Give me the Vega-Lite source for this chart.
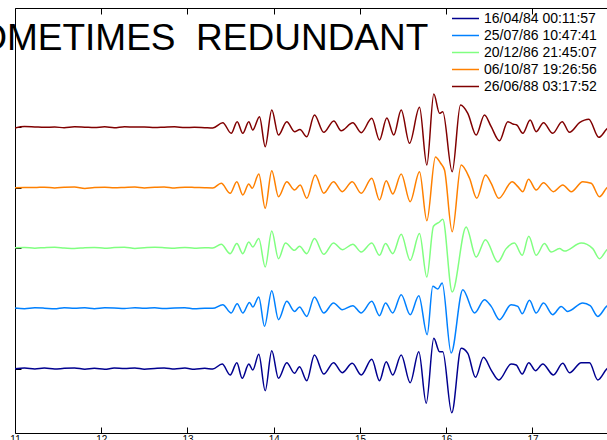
{
"$schema": "https://vega.github.io/schema/vega-lite/v6.json",
"width": 592, "height": 425,
"autosize": {"type": "none"},
"padding": {"left": 15, "top": 8, "right": 0, "bottom": 7},
"background": "white",
"config": {"view": {"stroke": null}, "font": "Liberation Sans"},
"datasets": {
"traces": [
{"s":"16/04/84 00:11:57","t":11.00,"v":1.000},{"s":"16/04/84 00:11:57","t":11.11,"v":1.012},{"s":"16/04/84 00:11:57","t":11.23,"v":0.996},{"s":"16/04/84 00:11:57","t":11.34,"v":1.010},{"s":"16/04/84 00:11:57","t":11.46,"v":0.994},{"s":"16/04/84 00:11:57","t":11.57,"v":1.008},{"s":"16/04/84 00:11:57","t":11.69,"v":1.014},{"s":"16/04/84 00:11:57","t":11.81,"v":0.992},{"s":"16/04/84 00:11:57","t":11.92,"v":1.006},{"s":"16/04/84 00:11:57","t":12.04,"v":0.990},{"s":"16/04/84 00:11:57","t":12.15,"v":1.012},{"s":"16/04/84 00:11:57","t":12.27,"v":1.002},{"s":"16/04/84 00:11:57","t":12.39,"v":1.014},{"s":"16/04/84 00:11:57","t":12.50,"v":0.992},{"s":"16/04/84 00:11:57","t":12.62,"v":1.004},{"s":"16/04/84 00:11:57","t":12.73,"v":1.012},{"s":"16/04/84 00:11:57","t":12.85,"v":0.994},{"s":"16/04/84 00:11:57","t":12.97,"v":1.010},{"s":"16/04/84 00:11:57","t":13.08,"v":0.992},{"s":"16/04/84 00:11:57","t":13.20,"v":1.006},
{"s":"16/04/84 00:11:57","t":13.293,"v":0.995},{"s":"16/04/84 00:11:57","t":13.402,"v":1.078},{"s":"16/04/84 00:11:57","t":13.495,"v":0.896},{"s":"16/04/84 00:11:57","t":13.572,"v":1.099},{"s":"16/04/84 00:11:57","t":13.634,"v":0.841},{"s":"16/04/84 00:11:57","t":13.711,"v":1.078},{"s":"16/04/84 00:11:57","t":13.757,"v":0.978},{"s":"16/04/84 00:11:57","t":13.827,"v":1.239},{"s":"16/04/84 00:11:57","t":13.901,"v":0.635},{"s":"16/04/84 00:11:57","t":13.977,"v":1.298},{"s":"16/04/84 00:11:57","t":14.055,"v":0.841},{"s":"16/04/84 00:11:57","t":14.151,"v":1.099},{"s":"16/04/84 00:11:57","t":14.241,"v":0.924},{"s":"16/04/84 00:11:57","t":14.299,"v":1.033},{"s":"16/04/84 00:11:57","t":14.383,"v":0.801},{"s":"16/04/84 00:11:57","t":14.472,"v":1.227},{"s":"16/04/84 00:11:57","t":14.580,"v":0.912},{"s":"16/04/84 00:11:57","t":14.693,"v":1.099},{"s":"16/04/84 00:11:57","t":14.794,"v":0.934},{"s":"16/04/84 00:11:57","t":14.910,"v":1.089},{"s":"16/04/84 00:11:57","t":15.014,"v":0.896},{"s":"16/04/84 00:11:57","t":15.137,"v":1.156},{"s":"16/04/84 00:11:57","t":15.226,"v":0.801},{"s":"16/04/84 00:11:57","t":15.304,"v":1.116},{"s":"16/04/84 00:11:57","t":15.380,"v":0.896},{"s":"16/04/84 00:11:57","t":15.478,"v":1.227},{"s":"16/04/84 00:11:57","t":15.582,"v":0.768},{"s":"16/04/84 00:11:57","t":15.682,"v":1.282},{"s":"16/04/84 00:11:57","t":15.768,"v":0.427},{"s":"16/04/84 00:11:57","t":15.856,"v":1.504},{"s":"16/04/84 00:11:57","t":15.922,"v":1.282},{"s":"16/04/84 00:11:57","t":15.960,"v":1.282},{"s":"16/04/84 00:11:57","t":16.064,"v":0.271},{"s":"16/04/84 00:11:57","t":16.173,"v":1.338},{"s":"16/04/84 00:11:57","t":16.250,"v":1.255},{"s":"16/04/84 00:11:57","t":16.339,"v":0.857},{"s":"16/04/84 00:11:57","t":16.432,"v":1.189},{"s":"16/04/84 00:11:57","t":16.521,"v":0.978},{"s":"16/04/84 00:11:57","t":16.609,"v":0.813},{"s":"16/04/84 00:11:57","t":16.753,"v":1.078},{"s":"16/04/84 00:11:57","t":16.811,"v":1.061},{"s":"16/04/84 00:11:57","t":16.881,"v":0.912},{"s":"16/04/84 00:11:57","t":16.957,"v":1.099},{"s":"16/04/84 00:11:57","t":17.035,"v":0.967},{"s":"16/04/84 00:11:57","t":17.119,"v":1.078},{"s":"16/04/84 00:11:57","t":17.243,"v":0.896},{"s":"16/04/84 00:11:57","t":17.351,"v":1.089},{"s":"16/04/84 00:11:57","t":17.429,"v":0.934},{"s":"16/04/84 00:11:57","t":17.565,"v":1.099},{"s":"16/04/84 00:11:57","t":17.661,"v":1.099},{"s":"16/04/84 00:11:57","t":17.757,"v":0.813},{"s":"16/04/84 00:11:57","t":17.858,"v":0.990},{"s":"16/04/84 00:11:57","t":17.95,"v":1.090},
{"s":"25/07/86 10:47:41","t":11.00,"v":2.005},{"s":"25/07/86 10:47:41","t":11.11,"v":1.994},{"s":"25/07/86 10:47:41","t":11.23,"v":2.010},{"s":"25/07/86 10:47:41","t":11.34,"v":2.004},{"s":"25/07/86 10:47:41","t":11.46,"v":1.992},{"s":"25/07/86 10:47:41","t":11.57,"v":2.012},{"s":"25/07/86 10:47:41","t":11.69,"v":2.002},{"s":"25/07/86 10:47:41","t":11.81,"v":2.010},{"s":"25/07/86 10:47:41","t":11.92,"v":1.994},{"s":"25/07/86 10:47:41","t":12.04,"v":2.010},{"s":"25/07/86 10:47:41","t":12.15,"v":2.006},{"s":"25/07/86 10:47:41","t":12.27,"v":1.996},{"s":"25/07/86 10:47:41","t":12.39,"v":2.012},{"s":"25/07/86 10:47:41","t":12.50,"v":2.002},{"s":"25/07/86 10:47:41","t":12.62,"v":2.010},{"s":"25/07/86 10:47:41","t":12.73,"v":1.996},{"s":"25/07/86 10:47:41","t":12.85,"v":2.008},{"s":"25/07/86 10:47:41","t":12.97,"v":2.012},{"s":"25/07/86 10:47:41","t":13.08,"v":1.994},{"s":"25/07/86 10:47:41","t":13.20,"v":2.004},
{"s":"25/07/86 10:47:41","t":13.293,"v":2.000},{"s":"25/07/86 10:47:41","t":13.409,"v":2.061},{"s":"25/07/86 10:47:41","t":13.507,"v":1.924},{"s":"25/07/86 10:47:41","t":13.576,"v":2.078},{"s":"25/07/86 10:47:41","t":13.641,"v":1.924},{"s":"25/07/86 10:47:41","t":13.719,"v":2.099},{"s":"25/07/86 10:47:41","t":13.757,"v":2.023},{"s":"25/07/86 10:47:41","t":13.827,"v":2.189},{"s":"25/07/86 10:47:41","t":13.893,"v":1.702},{"s":"25/07/86 10:47:41","t":13.977,"v":2.293},{"s":"25/07/86 10:47:41","t":14.055,"v":1.813},{"s":"25/07/86 10:47:41","t":14.151,"v":2.116},{"s":"25/07/86 10:47:41","t":14.241,"v":1.950},{"s":"25/07/86 10:47:41","t":14.299,"v":2.023},{"s":"25/07/86 10:47:41","t":14.383,"v":1.867},{"s":"25/07/86 10:47:41","t":14.472,"v":2.189},{"s":"25/07/86 10:47:41","t":14.580,"v":1.924},{"s":"25/07/86 10:47:41","t":14.693,"v":2.089},{"s":"25/07/86 10:47:41","t":14.794,"v":1.978},{"s":"25/07/86 10:47:41","t":14.917,"v":2.045},{"s":"25/07/86 10:47:41","t":15.014,"v":1.924},{"s":"25/07/86 10:47:41","t":15.137,"v":2.116},{"s":"25/07/86 10:47:41","t":15.226,"v":1.879},{"s":"25/07/86 10:47:41","t":15.296,"v":2.089},{"s":"25/07/86 10:47:41","t":15.380,"v":1.924},{"s":"25/07/86 10:47:41","t":15.478,"v":2.227},{"s":"25/07/86 10:47:41","t":15.582,"v":1.896},{"s":"25/07/86 10:47:41","t":15.682,"v":2.210},{"s":"25/07/86 10:47:41","t":15.779,"v":1.564},{"s":"25/07/86 10:47:41","t":15.844,"v":2.365},{"s":"25/07/86 10:47:41","t":15.902,"v":2.321},{"s":"25/07/86 10:47:41","t":15.953,"v":2.421},{"s":"25/07/86 10:47:41","t":16.057,"v":1.261},{"s":"25/07/86 10:47:41","t":16.192,"v":2.310},{"s":"25/07/86 10:47:41","t":16.328,"v":1.924},{"s":"25/07/86 10:47:41","t":16.443,"v":2.144},{"s":"25/07/86 10:47:41","t":16.521,"v":2.033},{"s":"25/07/86 10:47:41","t":16.617,"v":1.813},{"s":"25/07/86 10:47:41","t":16.753,"v":2.061},{"s":"25/07/86 10:47:41","t":16.830,"v":2.033},{"s":"25/07/86 10:47:41","t":16.881,"v":1.912},{"s":"25/07/86 10:47:41","t":16.965,"v":2.133},{"s":"25/07/86 10:47:41","t":17.043,"v":1.924},{"s":"25/07/86 10:47:41","t":17.128,"v":2.089},{"s":"25/07/86 10:47:41","t":17.235,"v":1.896},{"s":"25/07/86 10:47:41","t":17.333,"v":2.033},{"s":"25/07/86 10:47:41","t":17.409,"v":1.950},{"s":"25/07/86 10:47:41","t":17.583,"v":2.089},{"s":"25/07/86 10:47:41","t":17.669,"v":2.045},{"s":"25/07/86 10:47:41","t":17.757,"v":1.867},{"s":"25/07/86 10:47:41","t":17.858,"v":2.033},{"s":"25/07/86 10:47:41","t":17.95,"v":2.111},
{"s":"20/12/86 21:45:07","t":11.00,"v":3.004},{"s":"20/12/86 21:45:07","t":11.11,"v":3.010},{"s":"20/12/86 21:45:07","t":11.23,"v":2.998},{"s":"20/12/86 21:45:07","t":11.34,"v":3.006},{"s":"20/12/86 21:45:07","t":11.46,"v":3.012},{"s":"20/12/86 21:45:07","t":11.57,"v":3.002},{"s":"20/12/86 21:45:07","t":11.69,"v":2.992},{"s":"20/12/86 21:45:07","t":11.81,"v":3.006},{"s":"20/12/86 21:45:07","t":11.92,"v":3.010},{"s":"20/12/86 21:45:07","t":12.04,"v":2.996},{"s":"20/12/86 21:45:07","t":12.15,"v":3.008},{"s":"20/12/86 21:45:07","t":12.27,"v":3.012},{"s":"20/12/86 21:45:07","t":12.39,"v":2.994},{"s":"20/12/86 21:45:07","t":12.50,"v":3.004},{"s":"20/12/86 21:45:07","t":12.62,"v":3.012},{"s":"20/12/86 21:45:07","t":12.73,"v":3.006},{"s":"20/12/86 21:45:07","t":12.85,"v":2.996},{"s":"20/12/86 21:45:07","t":12.97,"v":3.010},{"s":"20/12/86 21:45:07","t":13.08,"v":2.998},{"s":"20/12/86 21:45:07","t":13.20,"v":3.006},
{"s":"20/12/86 21:45:07","t":13.293,"v":3.000},{"s":"20/12/86 21:45:07","t":13.391,"v":3.061},{"s":"20/12/86 21:45:07","t":13.495,"v":2.907},{"s":"20/12/86 21:45:07","t":13.572,"v":3.073},{"s":"20/12/86 21:45:07","t":13.641,"v":2.907},{"s":"20/12/86 21:45:07","t":13.711,"v":3.099},{"s":"20/12/86 21:45:07","t":13.757,"v":3.017},{"s":"20/12/86 21:45:07","t":13.827,"v":3.156},{"s":"20/12/86 21:45:07","t":13.901,"v":2.685},{"s":"20/12/86 21:45:07","t":13.977,"v":3.282},{"s":"20/12/86 21:45:07","t":14.055,"v":2.824},{"s":"20/12/86 21:45:07","t":14.136,"v":3.083},{"s":"20/12/86 21:45:07","t":14.241,"v":2.962},{"s":"20/12/86 21:45:07","t":14.299,"v":3.028},{"s":"20/12/86 21:45:07","t":14.383,"v":2.907},{"s":"20/12/86 21:45:07","t":14.472,"v":3.156},{"s":"20/12/86 21:45:07","t":14.580,"v":2.896},{"s":"20/12/86 21:45:07","t":14.693,"v":3.083},{"s":"20/12/86 21:45:07","t":14.794,"v":2.973},{"s":"20/12/86 21:45:07","t":14.917,"v":3.061},{"s":"20/12/86 21:45:07","t":15.014,"v":2.934},{"s":"20/12/86 21:45:07","t":15.137,"v":3.083},{"s":"20/12/86 21:45:07","t":15.226,"v":2.879},{"s":"20/12/86 21:45:07","t":15.296,"v":3.073},{"s":"20/12/86 21:45:07","t":15.380,"v":2.907},{"s":"20/12/86 21:45:07","t":15.478,"v":3.227},{"s":"20/12/86 21:45:07","t":15.582,"v":2.796},{"s":"20/12/86 21:45:07","t":15.690,"v":3.239},{"s":"20/12/86 21:45:07","t":15.775,"v":2.519},{"s":"20/12/86 21:45:07","t":15.852,"v":3.360},{"s":"20/12/86 21:45:07","t":15.922,"v":3.431},{"s":"20/12/86 21:45:07","t":15.960,"v":3.476},{"s":"20/12/86 21:45:07","t":16.069,"v":2.271},{"s":"20/12/86 21:45:07","t":16.231,"v":3.348},{"s":"20/12/86 21:45:07","t":16.347,"v":2.851},{"s":"20/12/86 21:45:07","t":16.455,"v":3.139},{"s":"20/12/86 21:45:07","t":16.598,"v":2.768},{"s":"20/12/86 21:45:07","t":16.695,"v":2.990},{"s":"20/12/86 21:45:07","t":16.791,"v":3.083},{"s":"20/12/86 21:45:07","t":16.881,"v":2.879},{"s":"20/12/86 21:45:07","t":16.957,"v":3.194},{"s":"20/12/86 21:45:07","t":17.043,"v":2.879},{"s":"20/12/86 21:45:07","t":17.139,"v":3.073},{"s":"20/12/86 21:45:07","t":17.217,"v":2.934},{"s":"20/12/86 21:45:07","t":17.313,"v":2.990},{"s":"20/12/86 21:45:07","t":17.371,"v":2.950},{"s":"20/12/86 21:45:07","t":17.565,"v":3.083},{"s":"20/12/86 21:45:07","t":17.699,"v":2.990},{"s":"20/12/86 21:45:07","t":17.777,"v":2.824},{"s":"20/12/86 21:45:07","t":17.858,"v":2.962},{"s":"20/12/86 21:45:07","t":17.95,"v":3.078},
{"s":"06/10/87 19:26:56","t":11.00,"v":4.000},{"s":"06/10/87 19:26:56","t":11.11,"v":4.004},{"s":"06/10/87 19:26:56","t":11.23,"v":4.002},{"s":"06/10/87 19:26:56","t":11.34,"v":4.008},{"s":"06/10/87 19:26:56","t":11.46,"v":3.996},{"s":"06/10/87 19:26:56","t":11.57,"v":4.006},{"s":"06/10/87 19:26:56","t":11.69,"v":4.012},{"s":"06/10/87 19:26:56","t":11.81,"v":3.988},{"s":"06/10/87 19:26:56","t":11.92,"v":4.004},{"s":"06/10/87 19:26:56","t":12.04,"v":4.006},{"s":"06/10/87 19:26:56","t":12.15,"v":3.998},{"s":"06/10/87 19:26:56","t":12.27,"v":4.004},{"s":"06/10/87 19:26:56","t":12.39,"v":4.010},{"s":"06/10/87 19:26:56","t":12.50,"v":3.996},{"s":"06/10/87 19:26:56","t":12.62,"v":4.006},{"s":"06/10/87 19:26:56","t":12.73,"v":4.012},{"s":"06/10/87 19:26:56","t":12.85,"v":3.994},{"s":"06/10/87 19:26:56","t":12.97,"v":4.008},{"s":"06/10/87 19:26:56","t":13.08,"v":4.004},{"s":"06/10/87 19:26:56","t":13.20,"v":3.998},
{"s":"06/10/87 19:26:56","t":13.293,"v":3.995},{"s":"06/10/87 19:26:56","t":13.391,"v":4.073},{"s":"06/10/87 19:26:56","t":13.495,"v":3.907},{"s":"06/10/87 19:26:56","t":13.572,"v":4.099},{"s":"06/10/87 19:26:56","t":13.641,"v":3.879},{"s":"06/10/87 19:26:56","t":13.711,"v":4.061},{"s":"06/10/87 19:26:56","t":13.750,"v":3.990},{"s":"06/10/87 19:26:56","t":13.827,"v":4.227},{"s":"06/10/87 19:26:56","t":13.901,"v":3.659},{"s":"06/10/87 19:26:56","t":13.977,"v":4.282},{"s":"06/10/87 19:26:56","t":14.055,"v":3.851},{"s":"06/10/87 19:26:56","t":14.151,"v":4.099},{"s":"06/10/87 19:26:56","t":14.241,"v":3.962},{"s":"06/10/87 19:26:56","t":14.307,"v":4.045},{"s":"06/10/87 19:26:56","t":14.383,"v":3.824},{"s":"06/10/87 19:26:56","t":14.481,"v":4.210},{"s":"06/10/87 19:26:56","t":14.580,"v":3.907},{"s":"06/10/87 19:26:56","t":14.693,"v":4.099},{"s":"06/10/87 19:26:56","t":14.794,"v":3.934},{"s":"06/10/87 19:26:56","t":14.910,"v":4.099},{"s":"06/10/87 19:26:56","t":15.014,"v":3.907},{"s":"06/10/87 19:26:56","t":15.137,"v":4.156},{"s":"06/10/87 19:26:56","t":15.226,"v":3.796},{"s":"06/10/87 19:26:56","t":15.304,"v":4.116},{"s":"06/10/87 19:26:56","t":15.380,"v":3.896},{"s":"06/10/87 19:26:56","t":15.478,"v":4.227},{"s":"06/10/87 19:26:56","t":15.582,"v":3.768},{"s":"06/10/87 19:26:56","t":15.690,"v":4.265},{"s":"06/10/87 19:26:56","t":15.775,"v":3.453},{"s":"06/10/87 19:26:56","t":15.875,"v":4.509},{"s":"06/10/87 19:26:56","t":15.933,"v":4.409},{"s":"06/10/87 19:26:56","t":15.980,"v":4.293},{"s":"06/10/87 19:26:56","t":16.069,"v":3.271},{"s":"06/10/87 19:26:56","t":16.173,"v":4.376},{"s":"06/10/87 19:26:56","t":16.270,"v":4.156},{"s":"06/10/87 19:26:56","t":16.354,"v":3.824},{"s":"06/10/87 19:26:56","t":16.455,"v":4.210},{"s":"06/10/87 19:26:56","t":16.521,"v":4.073},{"s":"06/10/87 19:26:56","t":16.609,"v":3.824},{"s":"06/10/87 19:26:56","t":16.765,"v":4.099},{"s":"06/10/87 19:26:56","t":16.830,"v":4.017},{"s":"06/10/87 19:26:56","t":16.888,"v":3.934},{"s":"06/10/87 19:26:56","t":16.954,"v":4.139},{"s":"06/10/87 19:26:56","t":17.043,"v":3.962},{"s":"06/10/87 19:26:56","t":17.128,"v":4.083},{"s":"06/10/87 19:26:56","t":17.243,"v":3.934},{"s":"06/10/87 19:26:56","t":17.351,"v":4.045},{"s":"06/10/87 19:26:56","t":17.449,"v":3.934},{"s":"06/10/87 19:26:56","t":17.583,"v":4.099},{"s":"06/10/87 19:26:56","t":17.681,"v":4.073},{"s":"06/10/87 19:26:56","t":17.777,"v":3.851},{"s":"06/10/87 19:26:56","t":17.858,"v":3.990},{"s":"06/10/87 19:26:56","t":17.95,"v":4.094},
{"s":"26/06/88 03:17:52","t":11.00,"v":4.990},{"s":"26/06/88 03:17:52","t":11.11,"v":5.012},{"s":"26/06/88 03:17:52","t":11.23,"v":5.006},{"s":"26/06/88 03:17:52","t":11.34,"v":5.000},{"s":"26/06/88 03:17:52","t":11.46,"v":5.004},{"s":"26/06/88 03:17:52","t":11.57,"v":4.994},{"s":"26/06/88 03:17:52","t":11.69,"v":5.008},{"s":"26/06/88 03:17:52","t":11.81,"v":5.002},{"s":"26/06/88 03:17:52","t":11.92,"v":4.996},{"s":"26/06/88 03:17:52","t":12.04,"v":5.008},{"s":"26/06/88 03:17:52","t":12.15,"v":4.992},{"s":"26/06/88 03:17:52","t":12.27,"v":5.010},{"s":"26/06/88 03:17:52","t":12.39,"v":5.004},{"s":"26/06/88 03:17:52","t":12.50,"v":5.006},{"s":"26/06/88 03:17:52","t":12.62,"v":4.996},{"s":"26/06/88 03:17:52","t":12.73,"v":5.002},{"s":"26/06/88 03:17:52","t":12.85,"v":5.008},{"s":"26/06/88 03:17:52","t":12.97,"v":4.996},{"s":"26/06/88 03:17:52","t":13.08,"v":5.002},{"s":"26/06/88 03:17:52","t":13.20,"v":4.994},
{"s":"26/06/88 03:17:52","t":13.293,"v":4.988},{"s":"26/06/88 03:17:52","t":13.409,"v":5.076},{"s":"26/06/88 03:17:52","t":13.507,"v":4.901},{"s":"26/06/88 03:17:52","t":13.576,"v":5.093},{"s":"26/06/88 03:17:52","t":13.641,"v":4.901},{"s":"26/06/88 03:17:52","t":13.711,"v":5.093},{"s":"26/06/88 03:17:52","t":13.757,"v":4.955},{"s":"26/06/88 03:17:52","t":13.835,"v":5.176},{"s":"26/06/88 03:17:52","t":13.901,"v":4.679},{"s":"26/06/88 03:17:52","t":13.977,"v":5.287},{"s":"26/06/88 03:17:52","t":14.055,"v":4.872},{"s":"26/06/88 03:17:52","t":14.151,"v":5.093},{"s":"26/06/88 03:17:52","t":14.241,"v":4.927},{"s":"26/06/88 03:17:52","t":14.304,"v":4.964},{"s":"26/06/88 03:17:52","t":14.383,"v":4.844},{"s":"26/06/88 03:17:52","t":14.472,"v":5.204},{"s":"26/06/88 03:17:52","t":14.580,"v":4.917},{"s":"26/06/88 03:17:52","t":14.696,"v":5.104},{"s":"26/06/88 03:17:52","t":14.782,"v":4.944},{"s":"26/06/88 03:17:52","t":14.917,"v":5.076},{"s":"26/06/88 03:17:52","t":15.014,"v":4.911},{"s":"26/06/88 03:17:52","t":15.137,"v":5.149},{"s":"26/06/88 03:17:52","t":15.226,"v":4.790},{"s":"26/06/88 03:17:52","t":15.311,"v":5.154},{"s":"26/06/88 03:17:52","t":15.392,"v":4.872},{"s":"26/06/88 03:17:52","t":15.478,"v":5.287},{"s":"26/06/88 03:17:52","t":15.574,"v":4.735},{"s":"26/06/88 03:17:52","t":15.690,"v":5.331},{"s":"26/06/88 03:17:52","t":15.775,"v":4.375},{"s":"26/06/88 03:17:52","t":15.856,"v":5.552},{"s":"26/06/88 03:17:52","t":15.922,"v":5.232},{"s":"26/06/88 03:17:52","t":15.960,"v":5.258},{"s":"26/06/88 03:17:52","t":16.069,"v":4.264},{"s":"26/06/88 03:17:52","t":16.165,"v":5.370},{"s":"26/06/88 03:17:52","t":16.250,"v":5.232},{"s":"26/06/88 03:17:52","t":16.347,"v":4.872},{"s":"26/06/88 03:17:52","t":16.443,"v":5.204},{"s":"26/06/88 03:17:52","t":16.521,"v":5.010},{"s":"26/06/88 03:17:52","t":16.617,"v":4.778},{"s":"26/06/88 03:17:52","t":16.714,"v":5.093},{"s":"26/06/88 03:17:52","t":16.772,"v":5.055},{"s":"26/06/88 03:17:52","t":16.818,"v":5.038},{"s":"26/06/88 03:17:52","t":16.888,"v":4.901},{"s":"26/06/88 03:17:52","t":16.973,"v":5.121},{"s":"26/06/88 03:17:52","t":17.043,"v":4.927},{"s":"26/06/88 03:17:52","t":17.128,"v":5.076},{"s":"26/06/88 03:17:52","t":17.235,"v":4.901},{"s":"26/06/88 03:17:52","t":17.344,"v":5.093},{"s":"26/06/88 03:17:52","t":17.429,"v":4.917},{"s":"26/06/88 03:17:52","t":17.545,"v":5.076},{"s":"26/06/88 03:17:52","t":17.653,"v":5.133},{"s":"26/06/88 03:17:52","t":17.769,"v":4.834},{"s":"26/06/88 03:17:52","t":17.858,"v":4.967},{"s":"26/06/88 03:17:52","t":17.95,"v":5.088}
]
},
"layer": [
{
"data": {"name": "traces"},
"mark": {"type": "line", "interpolate": "monotone", "strokeWidth": 1.5, "clip": true},
"encoding": {
"x": {"field": "t", "type": "quantitative", "scale": {"domain": [11, 17.864], "nice": false, "zero": false},
"axis": {"orient": "bottom", "title": null, "values": [11,12,13,14,15,16,17], "grid": false, "domainColor": "black", "tickColor": "black", "tickSize": -6, "labelFontSize": 10, "labelColor": "black", "labelFont": "Liberation Sans", "labelPadding": 7, "labelFlush": false}},
"y": {"field": "v", "type": "quantitative", "scale": {"domain": [-0.065, 6.977], "nice": false, "zero": false},
"axis": {"title": null, "values": [1,2,3,4,5], "labels": false, "grid": false, "domainColor": "black", "tickColor": "black", "tickSize": -6}},
"color": {"field": "s", "type": "nominal",
"scale": {"domain": ["16/04/84 00:11:57","25/07/86 10:47:41","20/12/86 21:45:07","06/10/87 19:26:56","26/06/88 03:17:52"], "range": ["#00008F","#0080FF","#80FF80","#FF8000","#800000"]},
"legend": {"orient": "none", "legendX": 443, "legendY": 3, "title": null, "symbolType": "M-2,0H2", "symbolSize": 182, "symbolStrokeWidth": 1.5, "labelFontSize": 14, "labelFont": "Liberation Sans", "labelColor": "black", "labelOffset": 11, "labelLimit": 200, "rowPadding": 2, "padding": 0}}
}
},
{
"data": {"values": [{}]},
"mark": {"type": "text", "fontSize": 37, "align": "left", "baseline": "alphabetic", "font": "Liberation Sans", "color": "black"},
"encoding": {
"x": {"datum": 10.287, "type": "quantitative", "axis": {"orient": "top", "title": null, "values": [11,12,13,14,15,16,17], "labels": false, "grid": false, "domainColor": "black", "tickColor": "black", "tickSize": -6}},
"y": {"datum": 6.281, "type": "quantitative"},
"text": {"value": "SOMETIMES\u00a0 REDUNDANT"}
}
}
],
"resolve": {"axis": {"x": "independent"}}
}
